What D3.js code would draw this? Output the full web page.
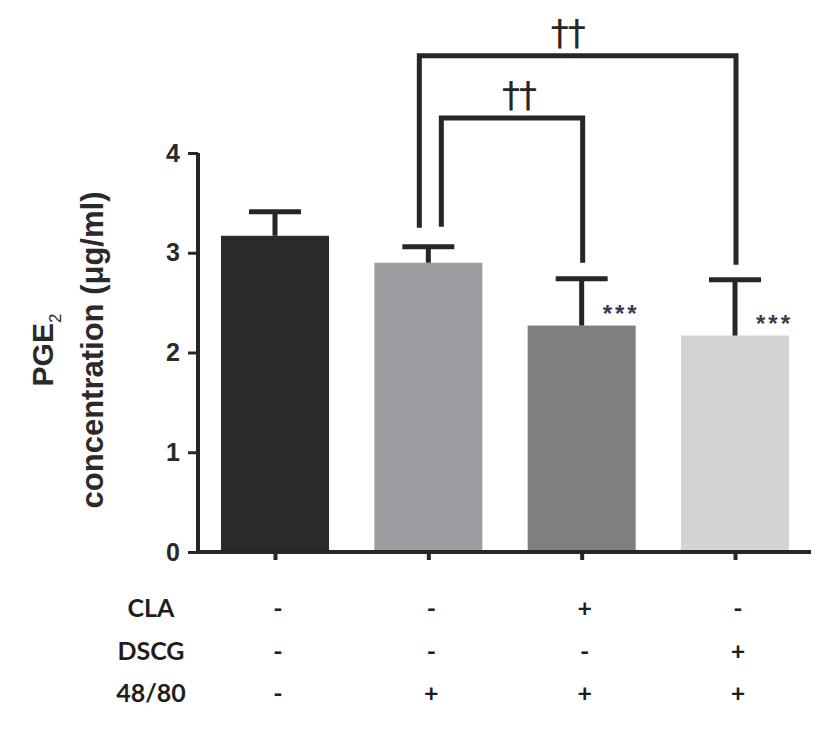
<!DOCTYPE html>
<html>
<head>
<meta charset="utf-8">
<script src="https://cdn.jsdelivr.net/npm/d3@7"></script>
<style>
  html, body { margin: 0; padding: 0; background: #fff; }
  svg { display: block; }
</style>
</head>
<body>
<svg id="chart" width="827" height="754"></svg>
<script>
// ---- data ----
const categories = ["G1", "G2", "G3", "G4"];
const means = [3.17, 2.90, 2.27, 2.17];
const errors = [0.24, 0.16, 0.47, 0.56];
const barColors = ["#2a2a2a", "#9d9da1", "#7f7f80", "#d4d4d4"];
const yTicks = [0, 1, 2, 3, 4];
const significance = ["", "", "***", "***"];
const rowLabels = ["CLA", "DSCG", "48/80"];
const CLA = ["-", "-", "+", "-"];
const DSCG = ["-", "-", "-", "+"];
const C4880 = ["-", "+", "+", "+"];
// brackets: from category index to category index, top level, left/right end levels
const brackets = [
  { from: 1, to: 3, top: 4.975, leftEnd: 3.25, rightEnd: 2.88, leftShift: -9, labelShift: -10, label: "††" },
  { from: 1, to: 2, top: 4.35, leftEnd: 3.26, rightEnd: 2.90, leftShift: 13, labelShift: 7, label: "††" }
];

// ---- layout ----
const svg = d3.select("#chart");
const ink = "#262626";
const x = d3.scalePoint().domain(categories).range([275, 735]);
const y = d3.scaleLinear().domain([0, 4]).range([552, 153]);
const barW = 108;

// bars
svg.append("g").selectAll("rect").data(categories).join("rect")
  .attr("x", d => x(d) - barW / 2)
  .attr("width", barW)
  .attr("y", (d, i) => y(means[i]))
  .attr("height", (d, i) => y(0) - y(means[i]))
  .attr("fill", (d, i) => barColors[i]);

// error bars (upper only)
const eg = svg.append("g").attr("stroke", ink).attr("stroke-width", 5);
categories.forEach((c, i) => {
  eg.append("line").attr("x1", x(c)).attr("x2", x(c))
    .attr("y1", y(means[i])).attr("y2", y(means[i] + errors[i]));
  eg.append("line").attr("x1", x(c) - 26).attr("x2", x(c) + 26)
    .attr("y1", y(means[i] + errors[i])).attr("y2", y(means[i] + errors[i]));
});

// y axis
const yAxis = d3.axisLeft(y).tickValues(yTicks).tickSize(10).tickPadding(8).tickFormat(d3.format("d"));
const yg = svg.append("g").attr("transform", "translate(198,0)").call(yAxis);
yg.select(".domain").attr("stroke", ink).attr("stroke-width", 4).attr("d", `M0,${y(4)}V${y(0) + 2}`);
yg.selectAll(".tick line").attr("stroke", ink).attr("stroke-width", 3);
yg.selectAll(".tick text")
  .attr("fill", "#2a2a2a")
  .style("font-family", "'Liberation Sans', Arial, sans-serif")
  .style("font-weight", "bold")
  .style("font-size", "25px");

// x axis
const xAxis = d3.axisBottom(x).tickSize(8).tickFormat("");
const xg = svg.append("g").attr("transform", `translate(0,${y(0)})`).call(xAxis);
xg.select(".domain").attr("stroke", ink).attr("stroke-width", 4).attr("d", "M196,0H811");
xg.selectAll(".tick line").attr("stroke", ink).attr("stroke-width", 4);

// y label
const lbl = svg.append("g").attr("transform", "translate(0,350) rotate(-90)")
  .style("font-family", "'Liberation Sans', Arial, sans-serif")
  .style("font-weight", "bold")
  .attr("fill", "#2a2a2a");
const t1 = lbl.append("text").attr("x", 0).attr("y", 53).attr("text-anchor", "middle").style("font-size", "30px");
t1.append("tspan").text("PGE");
t1.append("tspan").attr("dy", 8).style("font-size", "17px").style("font-weight", "normal").text("2");
lbl.append("text").attr("x", 0).attr("y", 103).attr("text-anchor", "middle").style("font-size", "31px")
  .text("concentration (μg/ml)");

// significance asterisks
svg.append("g").selectAll("text").data(categories).join("text")
  .attr("x", d => x(d) + 21)
  .attr("y", (d, i) => y(means[i]) - 4)
  .style("font-family", "'Liberation Sans', Arial, sans-serif")
  .style("font-weight", "bold")
  .style("font-size", "24px")
  .style("letter-spacing", "3px")
  .attr("fill", "#3a3a50")
  .text((d, i) => significance[i]);

// brackets
const bg = svg.append("g");
brackets.forEach(b => {
  const xl = x(categories[b.from]) + b.leftShift;
  const xr = x(categories[b.to]) + 1;
  bg.append("path")
    .attr("d", `M${xl},${y(b.leftEnd)}V${y(b.top)}H${xr}V${y(b.rightEnd)}`)
    .attr("fill", "none").attr("stroke", ink).attr("stroke-width", 5);
  bg.append("text")
    .attr("x", (xl + xr) / 2 + b.labelShift).attr("y", y(b.top) - 11)
    .attr("text-anchor", "middle")
    .style("font-family", "'DejaVu Sans', sans-serif")
    .style("font-size", "36px")
    .style("letter-spacing", "-1px")
    .attr("fill", ink)
    .text(b.label);
});

// treatment table
const rows = [CLA, DSCG, C4880];
const rowY = [607, 650, 692];
const tg = svg.append("g")
  .style("font-family", "Lato, 'Open Sans', sans-serif")
  .style("font-weight", "bold")
  .style("font-size", "25px")
  .attr("fill", "#1e1e1e")
  .attr("dominant-baseline", "central");
rowLabels.forEach((r, ri) => {
  tg.append("text").attr("x", 151).attr("y", rowY[ri]).attr("text-anchor", "middle").text(r);
  tg.selectAll(null).data(categories).join("text")
    .attr("x", d => x(d) + 3)
    .attr("y", rowY[ri])
    .attr("text-anchor", "middle")
    .text((d, i) => rows[ri][i]);
});
</script>
</body>
</html>
